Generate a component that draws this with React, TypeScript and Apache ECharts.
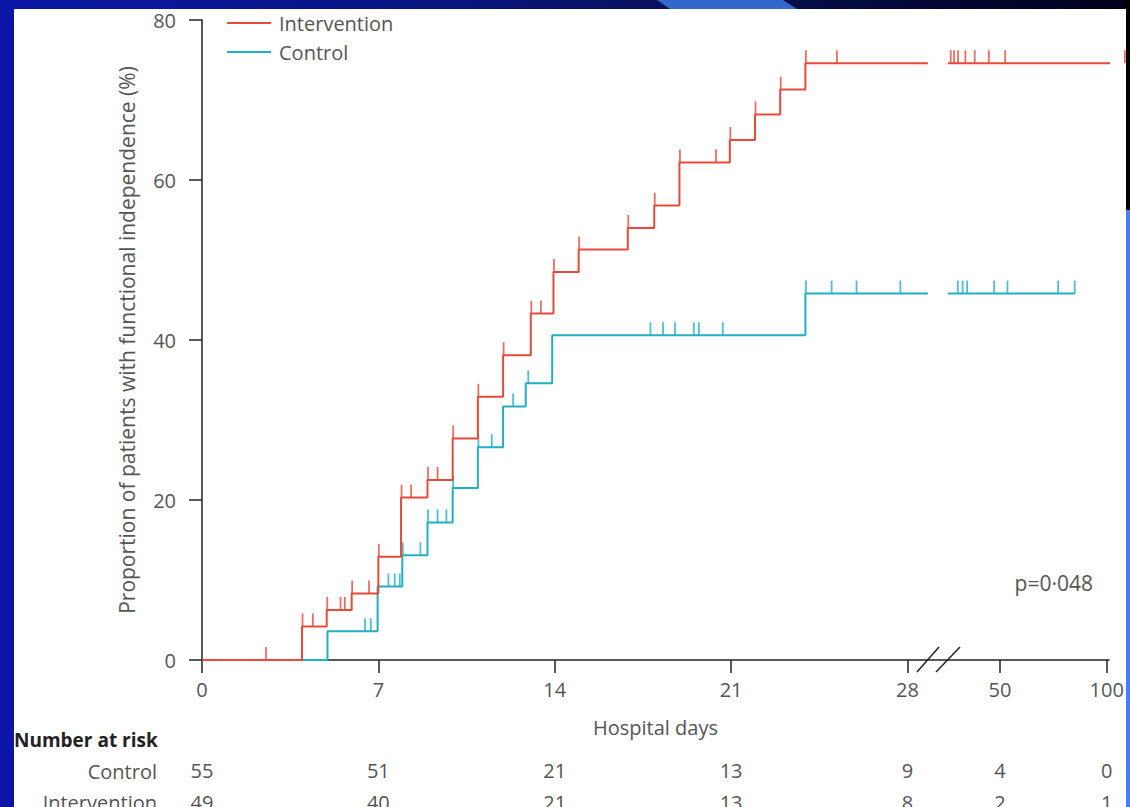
import React, { useEffect, useRef } from "react";
import * as echarts from "echarts";

// ---- Data ----
// x positions are in axis units: days 0-28 linear, then a compressed segment after the break
const X_TICK_POS = [0, 7, 14, 21, 28, 31.67, 35.91];
const X_TICK_LABELS = ["0", "7", "14", "21", "28", "50", "100"];
const Y_TICKS = [0, 20, 40, 60, 80];

const INT_STEP_X = [0, 3.97, 4.95, 5.94, 7.0, 7.9, 8.95, 9.95, 10.95, 11.95, 13.05, 13.95, 14.95, 16.9, 17.95, 18.95, 20.95, 21.95, 22.95, 23.95];
const INT_STEP_Y = [0, 4.2, 6.25, 8.3, 12.9, 20.3, 22.5, 27.7, 32.9, 38.1, 43.3, 48.5, 51.3, 54.0, 56.8, 62.2, 65.0, 68.2, 71.3, 74.6];
const INT_END = 36.63;
const INT_CENSOR_X = [2.54, 3.99, 4.4, 4.97, 5.5, 5.67, 5.96, 6.63, 7.02, 7.92, 8.3, 8.97, 9.35, 9.97, 10.97, 11.97, 13.07, 13.45, 13.97, 14.97, 16.92, 17.97, 18.97, 20.4, 20.97, 21.97, 22.97, 23.97, 25.2, 29.72, 29.85, 30.01, 30.3, 30.67, 31.23, 31.88, 36.63];

const CTL_STEP_X = [0, 4.98, 6.97, 7.95, 8.95, 9.95, 10.95, 11.95, 12.85, 13.9, 23.95];
const CTL_STEP_Y = [0, 3.6, 9.2, 13.1, 17.2, 21.5, 26.6, 31.7, 34.6, 40.6, 45.8];
const CTL_END = 34.64;
const CTL_CENSOR_X = [6.47, 6.7, 7.4, 7.65, 7.85, 7.97, 8.67, 8.97, 9.35, 9.7, 9.97, 10.97, 11.5, 12.35, 12.95, 17.8, 18.3, 18.77, 19.52, 19.72, 20.67, 23.97, 24.99, 25.98, 27.72, 30.0, 30.19, 30.37, 31.44, 31.97, 33.98, 34.64];

const BREAK_START = 28.81;
const BREAK_END = 29.6;

const RISK_CONTROL = ["55", "51", "21", "13", "9", "4", "0"];
const RISK_INTERVENTION = ["49", "40", "21", "13", "8", "2", "1"];

const RED = "#e84a3a";
const CYAN = "#22afc4";
const FONT = "Open Sans";
const TEXT = "#555555";
const FS = 20;

function levelAt(xs: number[], ys: number[], x: number) {
  let v = ys[0];
  for (let i = 0; i < xs.length; i++) if (x >= xs[i]) v = ys[i];
  return v;
}

function buildSteps(xs: number[], ys: number[], end: number) {
  const out: any[] = [[xs[0], ys[0]]];
  for (let i = 1; i < xs.length; i++) {
    out.push([xs[i], ys[i - 1]]);
    out.push([xs[i], ys[i]]);
  }
  const last = ys[ys.length - 1];
  out.push([BREAK_START, last]);
  out.push([(BREAK_START + BREAK_END) / 2, "-"]);
  out.push([BREAK_END, last]);
  out.push([end, last]);
  return out;
}

function labelFor(arr: string[]) {
  return (v: number) => {
    const i = X_TICK_POS.findIndex((p) => Math.abs(p - v) < 0.01);
    return i >= 0 ? arr[i] : "";
  };
}

export default function App() {
  const ref = useRef<HTMLDivElement>(null);
  useEffect(() => {
    if (!ref.current) return;
    const chart = echarts.init(ref.current, undefined, { renderer: "svg" });
    const censor = (name: string, xs: number[], sx: number[], sy: number[], color: string) => ({
      name,
      type: "scatter",
      data: xs.map((x) => [x, levelAt(sx, sy, x)]),
      symbol: "rect",
      symbolSize: [1.8, 13],
      symbolOffset: [0, -6.5],
      itemStyle: { color },
      clip: false,
      silent: true,
      z: 3,
    });
    const riskAxis = (arr: string[], offset: number) => ({
      type: "value",
      min: 0,
      max: 36,
      position: "bottom",
      offset,
      axisLine: { show: false },
      axisTick: { show: false },
      splitLine: { show: false },
      axisLabel: {
        customValues: X_TICK_POS,
        formatter: labelFor(arr),
        margin: 0,
        fontSize: FS,
        fontFamily: FONT,
        color: TEXT,
      },
    });
    chart.setOption({
      animation: false,
      backgroundColor: "transparent",
      grid: { left: 202, right: 21, top: 20, bottom: 147, containLabel: false, outerBoundsMode: "none" },
      legend: {
        data: ["Intervention", "Control"],
        orient: "vertical",
        left: 222,
        top: 5,
        icon: "rect",
        itemWidth: 44,
        itemHeight: 2,
        itemGap: 3,
        textStyle: { fontSize: FS, fontFamily: FONT, color: TEXT, lineHeight: 26, padding: [0, 0, 0, 3] },
      },
      xAxis: [
        {
          type: "value",
          min: 0,
          max: 36,
          name: "Hospital days",
          nameLocation: "middle",
          nameGap: 57,
          nameTextStyle: { fontSize: FS, fontFamily: FONT, color: TEXT },
          axisLine: { lineStyle: { color: "#222", width: 1.5 } },
          axisTick: { customValues: X_TICK_POS, length: 13, lineStyle: { color: "#222", width: 1.5 } },
          splitLine: { show: false },
          axisLabel: {
            customValues: X_TICK_POS,
            formatter: labelFor(X_TICK_LABELS),
            margin: 19,
            fontSize: FS,
            fontFamily: FONT,
            color: TEXT,
          },
        },
        riskAxis(RISK_CONTROL, 100),
        riskAxis(RISK_INTERVENTION, 132),
      ],
      yAxis: {
        type: "value",
        min: Y_TICKS[0],
        max: Y_TICKS[Y_TICKS.length - 1],
        interval: 20,
        name: "Proportion of patients with functional independence (%)",
        nameLocation: "middle",
        nameGap: 65,
        nameTextStyle: { fontSize: 21, fontFamily: FONT, color: TEXT },
        axisLine: { show: true, lineStyle: { color: "#222", width: 1.5 } },
        axisTick: { show: true, length: 13, lineStyle: { color: "#222", width: 1.5 } },
        splitLine: { show: false },
        axisLabel: { margin: 26, fontSize: FS, fontFamily: FONT, color: TEXT },
      },
      series: [
        {
          name: "Intervention",
          type: "line",
          data: buildSteps(INT_STEP_X, INT_STEP_Y, INT_END),
          showSymbol: false,
          symbol: "none",
          connectNulls: false,
          clip: false,
          lineStyle: { color: RED, width: 2 },
          itemStyle: { color: RED },
          z: 4,
        },
        {
          name: "Control",
          type: "line",
          data: buildSteps(CTL_STEP_X, CTL_STEP_Y, CTL_END),
          showSymbol: false,
          symbol: "none",
          connectNulls: false,
          clip: false,
          lineStyle: { color: CYAN, width: 2 },
          itemStyle: { color: CYAN },
          z: 3,
        },
        censor("Intervention", INT_CENSOR_X, INT_STEP_X, INT_STEP_Y, RED),
        censor("Control", CTL_CENSOR_X, CTL_STEP_X, CTL_STEP_Y, CYAN),
      ],
      graphic: [
        { type: "line", shape: { x1: 917, y1: 672, x2: 939, y2: 647 }, style: { stroke: "#222", lineWidth: 1.5 } },
        { type: "line", shape: { x1: 936, y1: 672, x2: 960, y2: 647 }, style: { stroke: "#222", lineWidth: 1.5 } },
        { type: "text", x: 1093, y: 583, style: { text: "p=0·048", fontSize: 21, fontFamily: FONT, fill: TEXT, align: "right", verticalAlign: "middle" } },
        { type: "text", x: 14, y: 740, style: { text: "Number at risk", fontSize: 19, fontWeight: "bold", fontFamily: FONT, fill: "#222", align: "left", verticalAlign: "middle" } },
        { type: "text", x: 157, y: 771, style: { text: "Control", fontSize: FS, fontFamily: FONT, fill: TEXT, align: "right", verticalAlign: "middle" } },
        { type: "text", x: 157, y: 802, style: { text: "Intervention", fontSize: FS, fontFamily: FONT, fill: TEXT, align: "right", verticalAlign: "middle" } },
      ],
    });
    return () => chart.dispose();
  }, []);

  return (
    <div style={{ position: "fixed", left: 0, top: 0, width: 1130, height: 807, overflow: "hidden", background: "#0b16a6" }}>
      <div style={{ position: "absolute", left: 0, top: 0, width: 1130, height: 9, background: "linear-gradient(90deg, #0b16a6 0%, #0a1580 40%, #061050 65%, #000018 100%)" }} />
      <div style={{ position: "absolute", left: 0, top: 0, width: 1130, height: 9, background: "#3466cc", clipPath: "polygon(657px 0px, 783px 0px, 797px 9px, 670px 9px)" }} />
      <div style={{ position: "absolute", left: 1126, top: 0, width: 4, height: 210, background: "#000000" }} />
      <div style={{ position: "absolute", left: 1126, top: 210, width: 4, height: 597, background: "#4a7cff" }} />
      <div style={{ position: "absolute", left: 14, top: 9, width: 1112, height: 798, background: "#ffffff" }} />
      <div ref={ref} style={{ position: "absolute", left: 0, top: 0, width: 1130, height: 807 }} />
    </div>
  );
}
